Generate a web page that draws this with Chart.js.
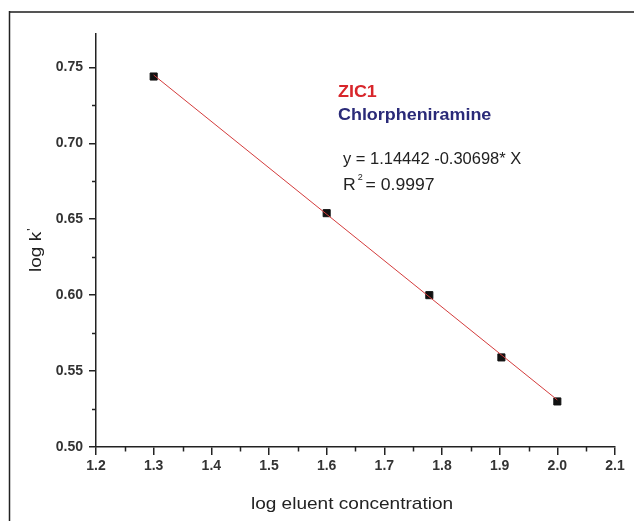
<!DOCTYPE html>
<html>
<head>
<meta charset="utf-8">
<script src="https://cdn.jsdelivr.net/npm/chart.js@4/dist/chart.umd.min.js"></script>
<style>
  html, body { margin: 0; padding: 0; background: #fff; }
  #wrap { width: 634px; height: 521px; position: relative; }
</style>
</head>
<body>
<div id="wrap"><canvas id="fitChart"></canvas></div>
<script>
// data
const logConc = [1.3, 1.6, 1.778, 1.903, 2.0];
const logK = [0.744, 0.654, 0.600, 0.559, 0.530];
const fitX = [1.3, 2.0];
const fitY = [0.745, 0.531];
const xTicks = [1.2, 1.3, 1.4, 1.5, 1.6, 1.7, 1.8, 1.9, 2.0, 2.1];
const yTicks = [0.50, 0.55, 0.60, 0.65, 0.70, 0.75];
const xMinor = [1.25, 1.35, 1.45, 1.55, 1.65, 1.75, 1.85, 1.95, 2.05];
const yMinor = [0.525, 0.575, 0.625, 0.675, 0.725];

const FONT = "'Liberation Sans', Arial, sans-serif";

// write text stretched horizontally from (x, y), returns drawn width
function wideText(c, txt, x, y, k) {
  c.save();
  c.translate(x, y);
  c.scale(k, 1);
  c.fillText(txt, 0, 0);
  const w = c.measureText(txt).width * k;
  c.restore();
  return w;
}

// frame, minor ticks, axis titles and the fit note
const extras = {
  id: 'extras',
  beforeDraw(chart) {
    const c = chart.ctx;
    c.save();
    c.fillStyle = '#fff';
    c.fillRect(0, 0, chart.width, chart.height);
    c.strokeStyle = '#555';
    c.lineWidth = 2;
    c.beginPath(); c.moveTo(9, 12); c.lineTo(634, 12); c.stroke();
    c.strokeStyle = '#222';
    c.lineWidth = 1.5;
    c.beginPath(); c.moveTo(9.5, 11); c.lineTo(9.5, 521); c.stroke();
    c.restore();
  },
  afterDraw(chart) {
    const c = chart.ctx;
    const xs = chart.scales.x, ys = chart.scales.y;
    const area = chart.chartArea;
    c.save();
    c.strokeStyle = '#222';
    c.lineWidth = 1.5;
    xMinor.forEach(v => {
      const px = Math.round(xs.getPixelForValue(v)) + 0.5;
      c.beginPath(); c.moveTo(px, area.bottom); c.lineTo(px, area.bottom + 4.5); c.stroke();
    });
    yMinor.forEach(v => {
      const py = Math.round(ys.getPixelForValue(v)) + 0.5;
      c.beginPath(); c.moveTo(area.left, py); c.lineTo(area.left - 4, py); c.stroke();
    });

    // axis titles
    c.fillStyle = '#222';
    c.font = '17px ' + FONT;
    c.textAlign = 'left';
    c.textBaseline = 'alphabetic';
    const tw = c.measureText('log eluent concentration').width * 1.12;
    wideText(c, 'log eluent concentration', 352 - tw / 2, 509, 1.12);

    c.save();
    c.translate(41, 272);
    c.rotate(-Math.PI / 2);
    const w = wideText(c, 'log k', 0, 0, 1.12);
    c.font = '12px ' + FONT;
    c.fillText("'", w + 1, -5);
    c.restore();

    // note
    c.font = 'bold 16px ' + FONT;
    c.fillStyle = '#d8262b';
    wideText(c, 'ZIC1', 338, 97, 1.12);
    c.fillStyle = '#2a2a78';
    wideText(c, 'Chlorpheniramine', 338, 120, 1.12);
    c.fillStyle = '#222';
    c.font = '16px ' + FONT;
    wideText(c, 'y = 1.14442 -0.30698* X', 343, 164, 1.03);
    const rw = wideText(c, 'R', 343, 190, 1.1);
    c.font = '9px ' + FONT;
    c.fillText('2', 343 + rw + 2, 180);
    c.font = '16px ' + FONT;
    wideText(c, ' = 0.9997', 343 + rw + 5, 190, 1.1);
    c.restore();
  }
};

const ctx = document.getElementById('fitChart');
new Chart(ctx, {
  type: 'scatter',
  data: {
    datasets: [
      {
        label: 'fit',
        data: fitX.map((x, i) => ({ x: x, y: fitY[i] })),
        showLine: true,
        borderColor: '#d43c3c',
        borderWidth: 1,
        pointRadius: 0,
        fill: false
      },
      {
        label: 'Chlorpheniramine',
        data: logConc.map((x, i) => ({ x: x, y: logK[i] })),
        pointStyle: 'rect',
        pointRadius: 5,
        backgroundColor: '#111',
        borderColor: '#111',
        borderWidth: 1
      }
    ]
  },
  options: {
    responsive: true,
    maintainAspectRatio: false,
    animation: false,
    events: [],
    layout: { padding: { top: 34, right: 19, left: 0, bottom: 0 } },
    plugins: { legend: { display: false }, tooltip: { enabled: false } },
    scales: {
      x: {
        type: 'linear',
        min: 1.2,
        max: 2.1,
        afterBuildTicks: s => { s.ticks = xTicks.map(v => ({ value: v })); },
        afterFit: s => { s.height = 74; },
        border: { display: true, color: '#222', width: 1.5 },
        grid: { display: true, drawOnChartArea: false, drawTicks: true, tickLength: 8, color: '#222', lineWidth: 1.5 },
        ticks: {
          color: '#333',
          padding: 3,
          font: { family: FONT, size: 14, weight: 'bold' },
          callback: v => v.toFixed(1)
        }
      },
      y: {
        min: 0.5,
        max: 0.772,
        afterBuildTicks: s => { s.ticks = yTicks.map(v => ({ value: v })); },
        afterFit: s => { s.width = 96; },
        border: { display: true, color: '#222', width: 1.5 },
        grid: { display: true, drawOnChartArea: false, drawTicks: true, tickLength: 7, color: '#222', lineWidth: 1.5 },
        ticks: {
          color: '#333',
          padding: 6,
          font: { family: FONT, size: 14, weight: 'bold' },
          callback: v => v.toFixed(2)
        }
      }
    }
  },
  plugins: [extras]
});
</script>
</body>
</html>
